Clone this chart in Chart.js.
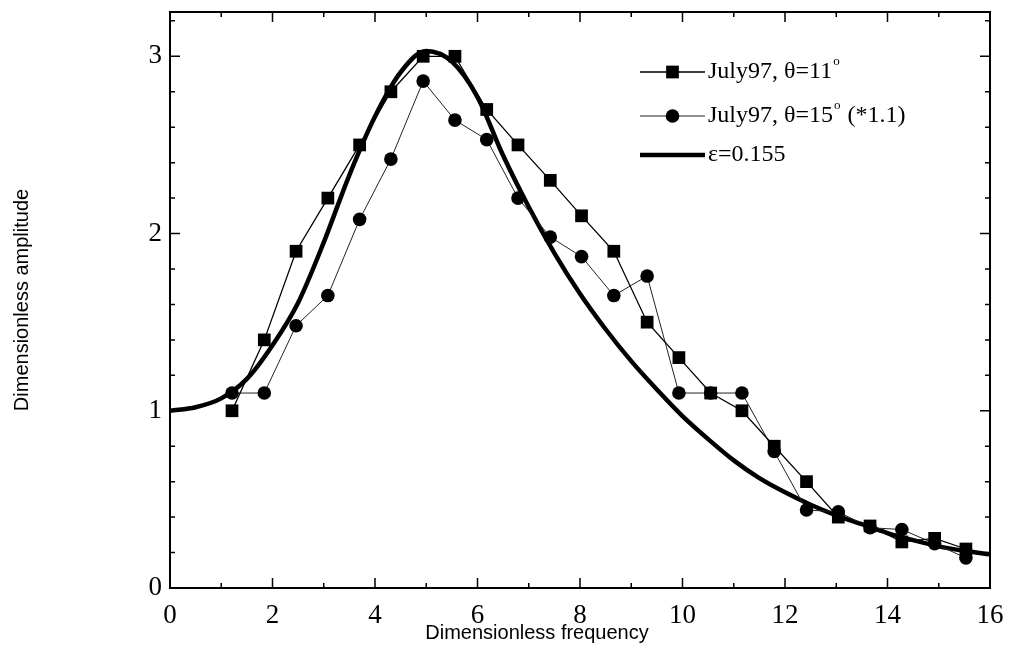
<!DOCTYPE html>
<html>
<head>
<meta charset="utf-8">
<script src="https://cdn.jsdelivr.net/npm/chart.js@4.4.0/dist/chart.umd.min.js"></script>
<style>
  html, body { margin: 0; padding: 0; background: #fff; }
  #wrap { width: 1011px; height: 649px; }
</style>
</head>
<body>
<div id="wrap"><canvas id="chart" width="1011" height="649"></canvas></div>
<script>
// measured points (theta = 11 deg and theta = 15 deg, the latter scaled by 1.1)
const freqMeas = [1.21, 1.84, 2.46, 3.08, 3.70, 4.31, 4.94, 5.56, 6.18, 6.79, 7.42, 8.03,
                  8.66, 9.31, 9.93, 10.55, 11.16, 11.79, 12.42, 13.04, 13.66, 14.28, 14.92, 15.53];
const amp11 = [1.00, 1.40, 1.90, 2.20, 2.50, 2.80, 3.00, 3.00, 2.70, 2.50, 2.30, 2.10,
               1.90, 1.50, 1.30, 1.10, 1.00, 0.80, 0.60, 0.40, 0.35, 0.26, 0.28, 0.22];
const amp15 = [1.10, 1.10, 1.48, 1.65, 2.08, 2.42, 2.86, 2.64, 2.53, 2.20, 1.98, 1.87,
               1.65, 1.76, 1.10, 1.10, 1.10, 0.77, 0.44, 0.43, 0.34, 0.33, 0.25, 0.17];

// model curve, epsilon = 0.155
const freqModel = [0, 0.5, 1, 1.5, 2, 2.5, 3, 3.5, 4, 4.5, 5, 5.5, 6, 6.5, 7, 7.5, 8, 8.5,
                   9, 9.5, 10, 10.5, 11, 11.5, 12, 12.5, 13, 13.5, 14, 14.5, 15, 15.5, 16];
const ampModel = [1.00, 1.02, 1.07, 1.18, 1.37, 1.61, 1.95, 2.33, 2.66, 2.91, 3.03, 2.97, 2.77,
                  2.44, 2.15, 1.89, 1.66, 1.46, 1.28, 1.12, 0.97, 0.84, 0.72, 0.62, 0.54, 0.47,
                  0.41, 0.36, 0.31, 0.27, 0.235, 0.21, 0.19];

// axis ticks
const xMajorTicks = [0, 2, 4, 6, 8, 10, 12, 14, 16];
const xMinorTicks = [1, 3, 5, 7, 9, 11, 13, 15];
const yMajorTicks = [0, 1, 2, 3];
const yMinorTicks = [0.2, 0.4, 0.6, 0.8, 1.2, 1.4, 1.6, 1.8, 2.2, 2.4, 2.6, 2.8, 3.2];

const xTitle = 'Dimensionless frequency';
const yTitle = 'Dimensionless amplitude';

// legend entries: text parts, 'sup' parts are drawn as superscripts
const legendItems = [
    { parts: [{ t: 'July97, \u03b8=11' }, { t: 'o', sup: true }] },
    { parts: [{ t: 'July97, \u03b8=15' }, { t: 'o', sup: true }, { t: ' (*1.1)' }] },
    { parts: [{ t: '\u03b5=0.155' }] }
];

const SERIF = '"Liberation Serif", "Times New Roman", serif';
const SANS = '"Liberation Sans", Arial, sans-serif';

function toPoints(xs, ys) {
    return xs.map((x, i) => ({ x: x, y: ys[i] }));
}

// frame with inward ticks on all four sides, plus axis titles
const framePlugin = {
    id: 'frame',
    afterDraw(chart) {
        const ctx = chart.ctx;
        const a = chart.chartArea;
        const xs = chart.scales.x;
        const ys = chart.scales.y;
        ctx.save();
        ctx.strokeStyle = '#000';
        ctx.lineWidth = 2;
        ctx.strokeRect(a.left, a.top, a.right - a.left, a.bottom - a.top);

        ctx.lineWidth = 1.5;
        ctx.beginPath();
        const xTick = (v, len) => {
            const px = xs.getPixelForValue(v);
            ctx.moveTo(px, a.bottom); ctx.lineTo(px, a.bottom - len);
            ctx.moveTo(px, a.top); ctx.lineTo(px, a.top + len);
        };
        const yTick = (v, len) => {
            const py = ys.getPixelForValue(v);
            ctx.moveTo(a.left, py); ctx.lineTo(a.left + len, py);
            ctx.moveTo(a.right, py); ctx.lineTo(a.right - len, py);
        };
        xMajorTicks.forEach(v => xTick(v, 10));
        xMinorTicks.forEach(v => xTick(v, 5));
        yMajorTicks.forEach(v => yTick(v, 10));
        yMinorTicks.forEach(v => yTick(v, 5));
        ctx.stroke();

        ctx.fillStyle = '#000';
        ctx.font = '20px ' + SANS;
        ctx.textAlign = 'center';
        ctx.textBaseline = 'middle';
        ctx.fillText(xTitle, 537, 633);

        ctx.translate(22, (a.top + a.bottom) / 2);
        ctx.rotate(-Math.PI / 2);
        ctx.fillText(yTitle, 0, 0);
        ctx.restore();
    }
};

// legend: line - marker - line, followed by text
const legendPlugin = {
    id: 'plotLegend',
    afterDatasetsDraw(chart) {
        const ctx = chart.ctx;
        const x0 = 640, x1 = 705, textX = 708;
        const rowY = [72, 116, 155];
        ctx.save();
        legendItems.forEach((item, i) => {
            const ds = chart.data.datasets[i];
            const y = rowY[i];
            ctx.strokeStyle = ds.borderColor;
            ctx.lineWidth = ds.borderWidth;
            ctx.beginPath();
            ctx.moveTo(x0, y);
            ctx.lineTo(x1, y);
            ctx.stroke();
            if (ds.pointRadius > 0) {
                Chart.helpers.drawPoint(ctx, {
                    pointStyle: ds.pointStyle,
                    radius: ds.pointRadius,
                    borderWidth: 0,
                    rotation: 0
                }, (x0 + x1) / 2, y);
            }
            let tx = textX;
            ctx.fillStyle = '#000';
            ctx.textAlign = 'left';
            ctx.textBaseline = 'middle';
            item.parts.forEach(p => {
                if (p.sup) {
                    ctx.font = '13px ' + SERIF;
                    ctx.fillText(p.t, tx + 1, y - 10);
                    tx += ctx.measureText(p.t).width + 2;
                } else {
                    ctx.font = '24px ' + SERIF;
                    ctx.fillText(p.t, tx, y);
                    tx += ctx.measureText(p.t).width;
                }
            });
        });
        ctx.restore();
    }
};

const ctx = document.getElementById('chart').getContext('2d');
new Chart(ctx, {
    type: 'scatter',
    data: {
        datasets: [{
            label: 'July97, \u03b8=11\u00b0',
            data: toPoints(freqMeas, amp11),
            showLine: true,
            borderColor: '#000',
            backgroundColor: '#000',
            borderWidth: 1.3,
            pointStyle: 'rect',
            pointRadius: 9,
            pointBorderWidth: 0,
            tension: 0
        }, {
            label: 'July97, \u03b8=15\u00b0 (*1.1)',
            data: toPoints(freqMeas, amp15),
            showLine: true,
            borderColor: '#222',
            backgroundColor: '#000',
            borderWidth: 1,
            pointStyle: 'circle',
            pointRadius: 6.8,
            pointBorderWidth: 0,
            tension: 0
        }, {
            label: '\u03b5=0.155',
            data: toPoints(freqModel, ampModel),
            showLine: true,
            borderColor: '#000',
            borderWidth: 4.5,
            pointRadius: 0,
            cubicInterpolationMode: 'monotone'
        }]
    },
    options: {
        responsive: false,
        animation: false,
        layout: { padding: { top: 12, right: 21, left: 0, bottom: 0 } },
        plugins: {
            legend: { display: false },
            tooltip: { enabled: false }
        },
        scales: {
            x: {
                type: 'linear',
                min: 0,
                max: 16,
                grid: { display: false, drawTicks: false },
                border: { display: false },
                afterBuildTicks: scale => { scale.ticks = xMajorTicks.map(v => ({ value: v })); },
                afterFit: scale => {
                    scale.height = 61;
                    scale.paddingLeft = 0;
                    scale.paddingRight = 0;
                },
                ticks: {
                    autoSkip: false,
                    maxRotation: 0,
                    padding: 12,
                    color: '#000',
                    font: { family: SERIF, size: 27 }
                }
            },
            y: {
                type: 'linear',
                min: 0,
                max: 3.25,
                grid: { display: false, drawTicks: false },
                border: { display: false },
                afterBuildTicks: scale => { scale.ticks = yMajorTicks.map(v => ({ value: v })); },
                afterFit: scale => {
                    scale.width = 170;
                    scale.paddingTop = 0;
                    scale.paddingBottom = 0;
                },
                ticks: {
                    padding: 8,
                    color: '#000',
                    font: { family: SERIF, size: 27 }
                }
            }
        }
    },
    plugins: [legendPlugin, framePlugin]
});
</script>
</body>
</html>
